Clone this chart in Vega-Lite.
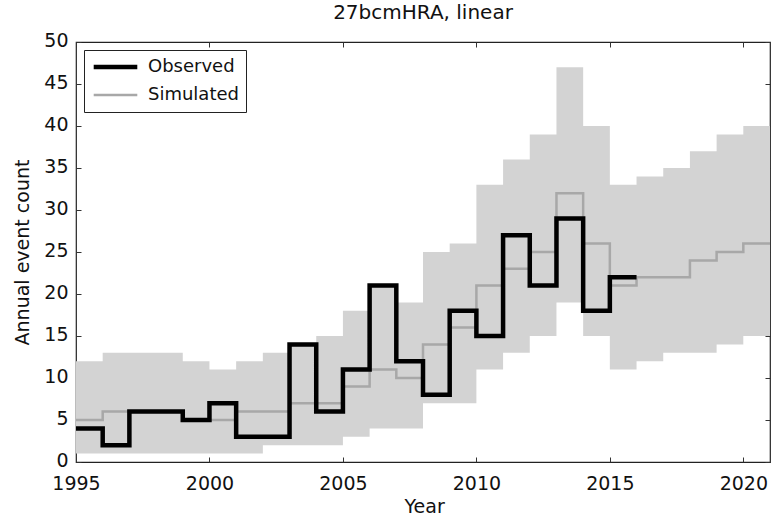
{
  "$schema": "https://vega.github.io/schema/vega-lite/v6.json",
  "width": 694,
  "height": 420,
  "autosize": {"type": "none"},
  "padding": {"left": 76, "top": 42, "right": 1, "bottom": 60},
  "background": "white",
  "title": {"text": "27bcmHRA, linear", "fontSize": 20, "fontWeight": "normal", "font": "DejaVu Sans", "color": "#111", "offset": 8},
  "config": {
    "view": {"stroke": "#222", "strokeWidth": 1.2},
    "font": "DejaVu Sans",
    "axis": {
      "grid": false,
      "domain": false,
      "tickColor": "#333",
      "tickSize": -5,
      "labelFont": "DejaVu Sans",
      "labelFontSize": 19,
      "labelColor": "#111",
      "titleFont": "DejaVu Sans",
      "titleFontSize": 19,
      "titleFontWeight": "normal",
      "titleColor": "#111"
    },
    "legend": {
      "orient": "top-left",
      "offset": 8,
      "padding": 7,
      "strokeColor": "#222",
      "fillColor": "white",
      "labelFont": "DejaVu Sans",
      "labelFontSize": 18,
      "labelColor": "#111",
      "symbolType": "stroke",
      "symbolSize": 1900,
      "labelOffset": 8,
      "clipHeight": 20,
      "rowPadding": 8
    }
  },
  "data": {
    "values": [
      {"year": 1995, "observed": 4, "median": 5, "lower": 1, "upper": 12},
      {"year": 1996, "observed": 2, "median": 6, "lower": 1, "upper": 13},
      {"year": 1997, "observed": 6, "median": 6, "lower": 1, "upper": 13},
      {"year": 1998, "observed": 6, "median": 6, "lower": 1, "upper": 13},
      {"year": 1999, "observed": 5, "median": 5, "lower": 1, "upper": 12},
      {"year": 2000, "observed": 7, "median": 5, "lower": 1, "upper": 11},
      {"year": 2001, "observed": 3, "median": 6, "lower": 1, "upper": 12},
      {"year": 2002, "observed": 3, "median": 6, "lower": 2, "upper": 13},
      {"year": 2003, "observed": 14, "median": 7, "lower": 2, "upper": 14},
      {"year": 2004, "observed": 6, "median": 7, "lower": 2, "upper": 15},
      {"year": 2005, "observed": 11, "median": 9, "lower": 3, "upper": 18},
      {"year": 2006, "observed": 21, "median": 11, "lower": 4, "upper": 21},
      {"year": 2007, "observed": 12, "median": 10, "lower": 4, "upper": 19},
      {"year": 2008, "observed": 8, "median": 14, "lower": 7, "upper": 25},
      {"year": 2009, "observed": 18, "median": 16, "lower": 7, "upper": 26},
      {"year": 2010, "observed": 15, "median": 21, "lower": 11, "upper": 33},
      {"year": 2011, "observed": 27, "median": 23, "lower": 13, "upper": 36},
      {"year": 2012, "observed": 21, "median": 25, "lower": 15, "upper": 39},
      {"year": 2013, "observed": 29, "median": 32, "lower": 19, "upper": 47},
      {"year": 2014, "observed": 18, "median": 26, "lower": 15, "upper": 40},
      {"year": 2015, "observed": 22, "median": 21, "lower": 11, "upper": 33},
      {"year": 2016, "observed": 22, "median": 22, "lower": 12, "upper": 34},
      {"year": 2017, "observed": null, "median": 22, "lower": 13, "upper": 35},
      {"year": 2018, "observed": null, "median": 24, "lower": 13, "upper": 37},
      {"year": 2019, "observed": null, "median": 25, "lower": 14, "upper": 39},
      {"year": 2020, "observed": null, "median": 26, "lower": 15, "upper": 40},
      {"year": 2021, "observed": null, "median": 26, "lower": 15, "upper": 40}
    ]
  },
  "resolve": {"axis": {"x": "independent", "y": "independent"}},
  "layer": [
    {
      "mark": {"type": "area", "interpolate": "step-after", "color": "#d3d3d3", "opacity": 1},
      "encoding": {
        "x": {"field": "year", "type": "quantitative", "scale": {"domain": [1995, 2021], "nice": false, "zero": false},
              "axis": {"values": [1995, 2000, 2005, 2010, 2015, 2020], "format": "d", "title": "Year", "labelPadding": 17, "labelBaseline": "top", "titlePadding": 4, "titleAnchor": "start", "titleX": 328, "labelFlush": false}},
        "y": {"field": "lower", "type": "quantitative", "scale": {"domain": [0, 50], "nice": false},
              "axis": {"values": [0, 5, 10, 15, 20, 25, 30, 35, 40, 45, 50], "title": "Annual event count", "labelPadding": 13, "labelOffset": -2, "titlePadding": 11}},
        "y2": {"field": "upper"}
      }
    },
    {
      "mark": {"type": "line", "interpolate": "step-after"},
      "encoding": {
        "x": {"field": "year", "type": "quantitative", "axis": null},
        "y": {"field": "median", "type": "quantitative", "axis": null},
        "stroke": {"datum": "Simulated", "type": "nominal", "scale": {"domain": ["Observed", "Simulated"], "range": ["#000000", "#a8a8a8"]}, "legend": {"title": null}},
        "strokeWidth": {"datum": "Simulated", "type": "nominal", "scale": {"domain": ["Observed", "Simulated"], "range": [4.5, 2.5]}, "legend": {"title": null}}
      }
    },
    {
      "transform": [{"filter": "datum.observed != null"}],
      "mark": {"type": "line", "interpolate": "step-after", "strokeJoin": "miter", "strokeCap": "butt"},
      "encoding": {
        "x": {"field": "year", "type": "quantitative", "axis": null},
        "y": {"field": "observed", "type": "quantitative", "axis": null},
        "stroke": {"datum": "Observed", "type": "nominal"},
        "strokeWidth": {"datum": "Observed", "type": "nominal"}
      }
    },
    {
      "mark": {"type": "point", "opacity": 0},
      "encoding": {
        "x": {"field": "year", "type": "quantitative", "axis": {"orient": "top", "values": [1995, 2000, 2005, 2010, 2015, 2020], "labels": false, "title": null}},
        "y": {"field": "median", "type": "quantitative", "axis": {"orient": "right", "values": [0, 5, 10, 15, 20, 25, 30, 35, 40, 45, 50], "labels": false, "title": null}}
      }
    }
  ]
}
